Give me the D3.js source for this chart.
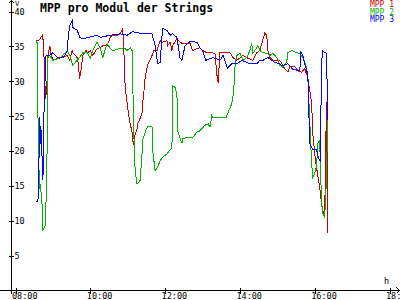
<!DOCTYPE html>
<html lang="de">
<head>
<meta charset="UTF-8">
<title>MPP pro Modul der Strings</title>
<script src="https://cdn.jsdelivr.net/npm/d3@7"></script>
<style>
  body { margin: 0; background: #fff; }
  svg { display: block; }
  text { font-family: "DejaVu Sans Mono", monospace; }
</style>
</head>
<body>
<script>
// Werte: [Uhrzeit, Spannung in V]
const mpp1 = [
  ["08:33",35.8],["08:38",35.9],["08:43",36.6],["08:44",36.2],["08:46",33.0],["08:48",27.5],["08:50",28.5],
  ["08:52",33.7],["08:55",35.1],["08:57",33.9],["09:00",33.0],["09:07",33.3],["09:16",33.4],["09:23",33.7],
  ["09:27",33.0],["09:31",34.4],["09:32",34.1],["09:39",33.4],["09:40",33.0],["09:42",31.3],["09:43",30.4],
  ["09:45",31.6],["09:47",33.0],["09:48",33.7],["09:53",34.4],["09:56",34.1],["10:00",34.4],["10:04",33.7],
  ["10:11",34.7],["10:16",34.8],["10:20",35.1],["10:27",35.1],["10:32",36.3],["10:36",36.6],["10:43",36.6],
  ["10:48",36.8],["10:52",37.6],["10:54",34.0],["10:56",29.0],["10:59",27.0],["11:00",26.1],["11:04",23.9],
  ["11:07",22.7],["11:09",20.8],["11:12",22.4],["11:15",23.2],["11:16",23.9],["11:20",24.7],["11:23",25.5],
  ["11:24",26.8],["11:26",28.5],["11:28",30.5],["11:32",32.3],["11:39",33.7],["11:42",34.4],["11:47",34.4],
  ["11:52",35.8],["11:56",35.6],["12:03",35.8],["12:04",35.1],["12:08",35.6],["12:11",34.4],["12:12",35.1],
  ["12:19",36.1],["12:24",35.6],["12:28",35.4],["12:40",35.4],["12:44",34.4],["12:51",34.7],["12:56",34.8],
  ["13:00",34.4],["13:07",34.1],["13:15",34.1],["13:20",33.9],["13:23",31.0],["13:25",29.8],["13:28",34.1],
  ["13:44",34.1],["13:49",33.4],["13:55",33.0],["14:05",33.7],["14:13",33.3],["14:21",33.0],["14:27",34.1],
  ["14:32",34.4],["14:37",36.0],["14:40",36.9],["14:43",36.6],["14:45",34.4],["14:48",33.4],["14:53",33.0],
  ["15:04",33.0],["15:12",31.8],["15:17",31.3],["15:20",32.1],["15:28",32.1],["15:33",31.5],["15:39",31.3],
  ["15:44",31.8],["15:49",30.5],["15:52",28.7],["15:55",27.0],["15:57",22.5],["16:00",19.6],["16:03",17.6],
  ["16:05",16.5],["16:08",14.8],["16:11",12.5],["16:13",11.5],["16:16",10.5],["16:18",22.0],["16:19",27.0],
  ["16:21",8.2]
];
const mpp2 = [
  ["08:33",35.8],["08:35",35.5],["08:36",25.0],["08:37",22.2],["08:38",15.5],["08:39",14.8],["08:40",15.0],
  ["08:43",12.0],["08:44",8.6],["08:46",9.0],["08:48",9.3],["08:49",12.9],["08:51",21.5],["08:52",33.4],
  ["08:55",33.7],["09:00",33.0],["09:11",33.3],["09:16",33.7],["09:23",34.4],["09:27",33.7],["09:32",32.3],
  ["09:39",33.0],["09:43",33.4],["09:48",34.1],["09:55",34.1],["10:00",33.3],["10:04",34.4],["10:11",35.6],
  ["10:16",34.7],["10:20",33.4],["10:27",35.4],["10:32",34.7],["10:36",34.4],["10:48",34.7],["10:54",34.8],
  ["10:59",34.4],["11:04",34.8],["11:07",34.4],["11:10",22.0],["11:12",17.0],["11:15",15.3],["11:16",15.3],
  ["11:20",15.8],["11:23",19.6],["11:24",21.5],["11:28",22.7],["11:32",23.5],["11:39",23.5],["11:40",20.1],
  ["11:44",17.2],["11:47",17.5],["11:52",18.6],["11:56",19.1],["12:03",19.6],["12:08",20.2],["12:11",20.4],
  ["12:12",29.4],["12:16",29.1],["12:19",28.2],["12:20",22.9],["12:27",21.1],["12:28",21.8],["12:35",21.9],
  ["12:44",21.9],["12:51",22.7],["12:56",22.9],["13:04",23.7],["13:09",23.9],["13:12",23.4],["13:15",25.1],
  ["13:17",24.8],["13:38",24.8],["13:41",25.5],["13:47",26.8],["13:50",28.5],["13:52",32.0],["13:55",33.7],
  ["14:00",34.0],["14:05",33.0],["14:11",33.4],["14:16",34.4],["14:19",35.4],["14:21",34.0],["14:24",34.4],
  ["14:29",35.1],["14:32",34.4],["14:37",34.1],["14:43",34.0],["14:48",33.7],["14:53",34.0],["15:00",33.3],
  ["15:04",32.3],["15:09",32.0],["15:15",32.7],["15:17",34.1],["15:23",34.4],["15:31",34.1],["15:36",34.0],
  ["15:41",33.4],["15:44",32.7],["15:47",32.0],["15:49",30.5],["15:52",24.4],["15:55",18.2],["15:57",16.2],
  ["16:00",16.8],["16:03",17.9],["16:05",21.1],["16:08",21.5],["16:11",12.6],["16:13",11.0],["16:16",10.5],
  ["16:18",14.0],["16:19",17.0],["16:21",24.4]
];
const mpp3 = [
  ["08:33",12.8],["08:36",12.8],["08:37",15.8],["08:39",24.9],["08:40",21.0],["08:42",23.0],["08:43",16.0],
  ["08:44",15.8],["08:46",27.0],["08:49",33.7],["08:55",33.7],["09:00",34.1],["09:07",33.4],["09:11",33.3],
  ["09:19",33.7],["09:23",34.4],["09:24",35.8],["09:27",38.0],["09:31",38.7],["09:32",37.7],["09:39",37.3],
  ["09:43",36.3],["09:48",36.1],["10:11",36.6],["10:16",36.3],["10:32",36.6],["10:48",36.8],["10:59",36.6],
  ["11:08",37.1],["11:24",36.8],["11:39",36.8],["11:44",35.1],["11:48",32.5],["11:52",32.7],["11:56",37.6],
  ["12:03",37.3],["12:08",36.6],["12:12",36.8],["12:19",36.3],["12:24",33.3],["12:27",33.0],["12:32",35.1],
  ["12:40",35.7],["12:51",35.6],["12:56",34.8],["13:00",34.4],["13:05",33.0],["13:17",33.4],["13:28",33.0],
  ["13:33",33.7],["13:40",31.9],["13:47",32.5],["13:55",32.5],["14:03",33.0],["14:11",32.7],["14:16",32.5],
  ["14:27",32.5],["14:32",33.0],["14:37",33.0],["14:45",33.4],["14:51",33.0],["14:56",32.7],["15:04",32.5],
  ["15:07",32.2],["15:17",32.5],["15:25",31.7],["15:36",31.5],["15:38",34.2],["15:41",33.7],["15:44",32.5],
  ["15:49",31.0],["15:52",21.1],["15:57",20.2],["16:03",20.2],["16:05",19.3],["16:09",18.4],["16:10",26.0],
  ["16:12",34.4],["16:16",34.1],["16:19",34.0],["16:21",24.4]
];
const seriesNames = ["MPP 1", "MPP 2", "MPP 3"];
const seriesColors = ["#cc0000", "#00b400", "#0000ff"];
const xTicks = ["08:00", "10:00", "12:00", "14:00", "16:00", "18:00"];
const yTicks = [5, 10, 15, 20, 25, 30, 35, 40];

const W = 400, H = 300;
const toMin = s => { const p = s.split(":"); return +p[0] * 60 + +p[1]; };

const svg = d3.select("body").append("svg")
  .attr("width", W).attr("height", H)
  .attr("shape-rendering", "crispEdges");

const x = d3.scaleLinear().domain([toMin("08:00"), toMin("18:00")]).range([15.5, 389.5]);
const y = d3.scaleLinear().domain([0, 40]).range([290.5, 11.5]);

// Achsen
const xAxis = svg.append("g")
  .attr("transform", "translate(0,290.5)")
  .call(d3.axisBottom(x).tickValues(xTicks.map(toMin)).tickSize(3)
    .tickFormat((d, i) => xTicks[i]));
xAxis.select(".domain").remove();
xAxis.selectAll(".tick line").attr("y1", -3).attr("y2", 3).attr("stroke", "#000");
xAxis.selectAll(".tick text")
  .attr("text-anchor", "start").attr("x", -4).attr("y", 8.5).attr("dy", 0)
  .style("font-size", "8.5px").attr("fill", "#000");

const yAxis = svg.append("g")
  .attr("transform", "translate(11.5,0)")
  .call(d3.axisLeft(y).tickValues(yTicks).tickSize(3));
yAxis.select(".domain").remove();
yAxis.selectAll(".tick line").attr("x1", -3).attr("x2", 2).attr("stroke", "#000");
yAxis.selectAll(".tick text")
  .attr("text-anchor", "start").attr("x", 3).attr("dy", "0.34em")
  .style("font-size", "8.5px").attr("fill", "#000");

svg.append("line").attr("x1", 0).attr("x2", 399).attr("y1", 290.5).attr("y2", 290.5).attr("stroke", "#000");
svg.append("line").attr("x1", 11.5).attr("x2", 11.5).attr("y1", 0).attr("y2", 294).attr("stroke", "#000");
svg.append("path").attr("d", "M8.5,3.5L11.5,0.5L14.5,3.5").attr("fill", "none").attr("stroke", "#000");
svg.append("path").attr("d", "M396.5,287.5L399.5,290.5L396.5,293.5").attr("fill", "none").attr("stroke", "#000");

svg.append("text").attr("x", 15).attr("y", 6).style("font-size", "7px").text("V");
svg.append("text").attr("x", 384).attr("y", 284).style("font-size", "8.5px").text("h");

// Linien (ohne Kantenglättung wie im Original)
const line = d3.line().x(d => x(toMin(d[0]))).y(d => y(d[1]));
[mpp1, mpp2, mpp3].forEach((s, i) => {
  svg.append("path").datum(s)
    .attr("d", line)
    .attr("fill", "none")
    .attr("stroke", seriesColors[i])
    .attr("stroke-width", 1);
});

// Titel und Legende
svg.append("text").attr("x", 40).attr("y", 11.5)
  .style("font-size", "11.5px").style("font-weight", "bold")
  .text("MPP pro Modul der Strings");

svg.selectAll(".leg").data(seriesNames).enter().append("text")
  .attr("x", 394).attr("y", (d, i) => 7 + i * 7.6)
  .attr("text-anchor", "end")
  .style("font-size", "8px")
  .attr("fill", (d, i) => seriesColors[i])
  .text(d => d);
</script>
</body>
</html>
